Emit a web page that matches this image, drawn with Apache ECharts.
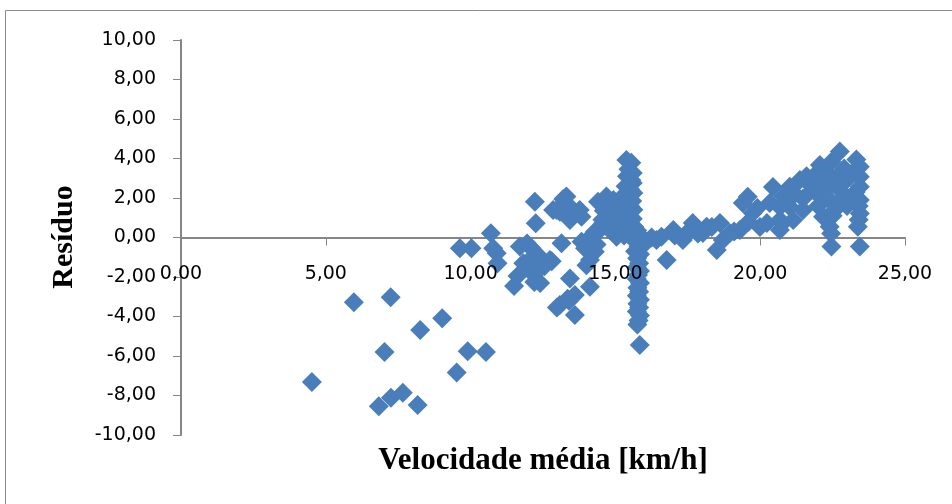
<!DOCTYPE html>
<html>
<head>
<meta charset="utf-8">
<title>Resíduo x Velocidade média</title>
<script src="https://cdn.jsdelivr.net/npm/echarts@6/dist/echarts.min.js"></script>
<style>
  html, body { margin: 0; padding: 0; background: #ffffff; }
  #chart { width: 952px; height: 504px; }
</style>
</head>
<body>
<div id="chart"></div>
<script>
// Velocidade média [km/h] vs resíduo, pontos agrupados por faixa de velocidade
const baixaVelocidade = [
  [4.52, -7.32], [5.97, -3.28], [6.83, -8.55], [7.03, -5.80], [7.24, -3.03],
  [7.25, -8.11], [7.66, -7.86], [8.17, -8.48], [8.26, -4.68], [9.02, -4.09],
  [9.52, -6.84], [9.90, -5.76], [10.53, -5.80]
];

const faixa10a13 = [
  [9.63, -0.55], [10.03, -0.55], [10.70, 0.21], [10.78, -0.55], [10.90, -0.80],
  [10.93, -1.31], [11.70, -0.46], [11.95, -0.30], [12.10, -0.55], [12.30, -0.85],
  [11.82, -1.30], [12.02, -1.65], [11.62, -1.95], [11.50, -2.45], [12.20, -2.25],
  [12.40, -2.30], [12.55, -1.45], [12.80, -1.20], [12.35, -1.65], [12.10, -1.05],
  [12.22, 1.81], [12.25, 0.72]
];

const faixa13a15 = [
  [12.85, 1.39], [12.97, 1.39], [13.08, 1.31], [13.31, 2.07], [13.31, 1.70],
  [13.43, 1.39], [13.43, 0.89], [13.54, 1.39], [13.77, 1.39], [13.83, 1.05],
  [13.20, 1.95], [14.40, 1.81], [14.69, 2.07], [14.58, 0.72], [14.93, 1.90],
  [15.15, 1.39], [14.69, 0.97], [14.46, 0.38], [14.81, 0.38], [15.04, 0.04],
  [14.80, 1.55], [15.00, 1.20], [14.60, 1.35], [14.30, 0.30], [14.15, 0.05],
  [14.55, 0.90], [13.14, -0.29], [12.74, -1.14], [13.43, -2.07], [13.08, -3.42],
  [13.60, -2.91], [13.60, -3.92], [14.12, -2.49], [13.83, -0.21], [14.18, -0.80],
  [14.29, -0.72], [14.12, -1.14], [14.35, -0.35], [13.95, -0.55], [13.35, -3.10],
  [12.98, -3.55], [13.40, -3.20], [14.00, -1.40]
];

const faixa15a16 = [
  [15.38, 3.92], [15.55, 3.78], [15.45, 3.45], [15.60, 3.27], [15.40, 3.10],
  [15.55, 2.90], [15.60, 2.76], [15.35, 2.60], [15.50, 2.45], [15.62, 2.25],
  [15.30, 2.15], [15.45, 2.00], [15.58, 1.85], [15.25, 1.70], [15.50, 1.60],
  [15.62, 1.40], [15.35, 1.30], [15.48, 1.10], [15.60, 0.95], [15.30, 0.85],
  [15.50, 0.70], [15.65, 0.55], [15.20, 0.55], [15.40, 0.35], [15.58, 0.20],
  [15.75, 0.35], [15.30, 0.10], [15.10, 0.25], [15.85, 0.10], [15.70, -0.05],
  [15.05, 0.75], [15.10, 1.60], [14.95, 0.50], [15.20, 1.05], [15.25, 1.90],
  [15.72, -0.25], [15.80, -0.45], [15.68, -0.70], [15.85, -0.85], [15.75, -1.05],
  [15.82, -1.30], [15.74, -1.50], [15.85, -1.70], [15.78, -1.90], [15.74, -2.10],
  [15.85, -2.30], [15.76, -2.55], [15.82, -2.75], [15.74, -2.95], [15.85, -3.15],
  [15.76, -3.35], [15.82, -3.55], [15.74, -3.75], [15.85, -3.95], [15.80, -4.20],
  [15.76, -4.40], [15.84, -5.44]
];

const faixa16a21 = [
  [16.05, -0.25], [16.25, 0.00], [16.42, -0.13], [16.59, 0.04], [16.77, -1.14],
  [17.00, 0.38], [17.05, 0.10], [17.33, -0.13], [17.67, 0.73], [17.55, 0.35],
  [17.85, 0.20], [18.02, 0.23], [18.33, 0.53], [18.61, 0.73], [18.71, -0.13],
  [18.95, 0.23], [18.50, -0.63], [19.30, 0.38], [19.40, 1.75], [19.57, 2.06],
  [19.74, 1.24], [19.99, 0.53], [20.23, 0.73], [20.44, 2.56], [20.33, 1.75],
  [20.68, 1.54], [20.92, 2.06], [20.78, 0.73], [20.68, 0.38], [19.10, 0.30],
  [19.60, 0.80], [19.90, 1.50], [18.15, 0.55]
];

const altaVelocidade = [
  [22.75, 4.35], [22.46, 3.84], [23.32, 3.95], [23.44, 3.58], [22.06, 3.67],
  [21.83, 3.08], [21.37, 2.91], [21.02, 2.57], [20.79, 2.07], [21.02, 1.56],
  [21.48, 1.98], [22.06, 2.07], [22.40, 2.57], [22.75, 2.41], [22.57, 1.39],
  [22.40, 0.55], [22.46, -0.46], [23.44, -0.46], [23.37, 0.55], [23.44, 1.22],
  [23.44, 1.90], [23.44, 2.57], [23.44, 3.08], [22.98, 2.91], [23.15, 2.07],
  [21.83, 2.41], [21.48, 1.39], [22.17, 1.05], [21.14, 0.89], [20.68, 0.89],
  [22.30, 3.30], [22.60, 3.00], [22.90, 3.50], [23.20, 3.30], [22.20, 2.80],
  [21.70, 2.70], [22.00, 1.60], [22.40, 1.90], [23.00, 1.60], [23.30, 2.30],
  [22.50, 1.10], [23.40, 0.90], [21.20, 2.20], [21.60, 3.10], [22.80, 1.90],
  [23.40, 1.60], [22.45, 0.20]
];

const eixoX = { min: 0, max: 25, passo: 5 };
const eixoY = { min: -10, max: 10, passo: 2 };
const tituloX = 'Velocidade média [km/h]';
const tituloY = 'Resíduo';

const pontos = [].concat(baixaVelocidade, faixa10a13, faixa13a15, faixa15a16, faixa16a21, altaVelocidade);

const virgula = v => v.toFixed(2).replace('.', ',');
const corEixo = '#868686';
const fonteNum = 'DejaVu Sans';

// área de plotagem
const grade = { left: 181, right: 47, top: 40, bottom: 69 };
const alturaGrade = 504 - grade.top - grade.bottom;
// deslocamento que leva o eixo de rótulos da base até a linha do zero
const deslocZero = -alturaGrade * (0 - eixoY.min) / (eixoY.max - eixoY.min);

const chart = echarts.init(document.getElementById('chart'), null, { renderer: 'canvas' });

chart.setOption({
  animation: false,
  backgroundColor: '#ffffff',
  grid: Object.assign({ containLabel: false }, grade),
  xAxis: [
    {
      // linha e marcas do eixo, por baixo dos pontos
      type: 'value', min: eixoX.min, max: eixoX.max, interval: eixoX.passo,
      position: 'bottom', z: 0,
      axisLine: { show: true, onZero: true, lineStyle: { color: corEixo, width: 2 } },
      axisTick: { show: true, inside: false, length: 8, lineStyle: { color: corEixo, width: 1 } },
      axisLabel: { show: false },
      splitLine: { show: false }
    },
    {
      // rótulos do eixo, por cima dos pontos
      type: 'value', min: eixoX.min, max: eixoX.max, interval: eixoX.passo,
      position: 'bottom', z: 10, offset: deslocZero,
      axisLine: { show: false, onZero: false },
      axisTick: { show: false },
      axisLabel: { show: true, margin: 27, formatter: virgula, color: '#000', fontFamily: fonteNum, fontSize: 19 },
      splitLine: { show: false }
    }
  ],
  yAxis: [
    {
      type: 'value', min: eixoY.min, max: eixoY.max, interval: eixoY.passo,
      position: 'left', z: 10,
      axisLine: { show: true, onZero: false, lineStyle: { color: corEixo, width: 2 } },
      axisTick: { show: true, inside: false, length: 8, lineStyle: { color: corEixo, width: 1 } },
      axisLabel: { show: true, margin: 25, formatter: virgula, color: '#000', fontFamily: fonteNum, fontSize: 19 },
      splitLine: { show: false }
    }
  ],
  graphic: [
    {
      type: 'rect', silent: true, z: -10,
      shape: { x: 5.5, y: 10.5, width: 960, height: 510 },
      style: { fill: 'none', stroke: '#8c8c8c', lineWidth: 1 }
    },
    {
      type: 'text', silent: true,
      x: 543, y: 461,
      style: {
        text: tituloX, fill: '#000',
        font: 'bold 31px "Liberation Serif", "Times New Roman", serif',
        textAlign: 'center', textVerticalAlign: 'middle'
      }
    },
    {
      type: 'text', silent: true,
      x: 64, y: 237, rotation: Math.PI / 2,
      style: {
        text: tituloY, fill: '#000',
        font: 'bold 30px "Liberation Serif", "Times New Roman", serif',
        textAlign: 'center', textVerticalAlign: 'middle'
      }
    }
  ],
  series: [
    {
      type: 'scatter',
      xAxisIndex: 0, yAxisIndex: 0,
      symbol: 'diamond',
      symbolSize: 20,
      itemStyle: { color: '#4a7ebb', opacity: 1 },
      data: pontos
    }
  ]
});
</script>
</body>
</html>
